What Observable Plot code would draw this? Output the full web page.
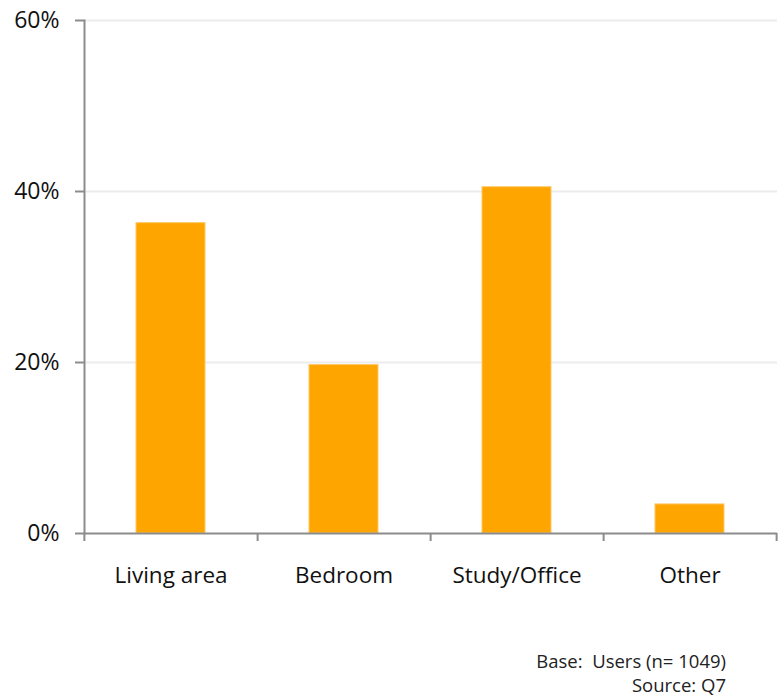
<!DOCTYPE html>
<html>
<head>
<meta charset="utf-8">
<script src="https://cdn.jsdelivr.net/npm/d3@7"></script>
<script src="https://cdn.jsdelivr.net/npm/@observablehq/plot@0.6"></script>
<style>
  html, body { margin: 0; padding: 0; background: #fff; }
  #chart { width: 781px; }
  .caption {
    width: 726px;
    text-align: right;
    font-family: "Open Sans", Lato, sans-serif;
    font-size: 18.5px;
    line-height: 24px;
    color: #222;
    padding-top: 1px;
  }
</style>
</head>
<body>
<div id="chart"></div>
<div class="caption">
  <div>Base:&nbsp; Users (n= 1049)</div>
  <div>Source: Q7</div>
</div>
<script>
// Where the device is used (share of users, %)
const rooms = ["Living area", "Bedroom", "Study/Office", "Other"];
const shares = [36.3, 19.7, 40.5, 3.4];
const yTicks = [0, 20, 40, 60];
const gridTicks = [20, 40, 60];

const data = rooms.map((room, i) => ({room, share: shares[i]}));

const width = 781;
const marginLeft = 84;
const marginRight = 4;
const step = (width - marginLeft - marginRight) / rooms.length;
const axisGray = "#8c8c8c";

const chart = Plot.plot({
  width,
  height: 648,
  marginTop: 20,
  marginBottom: 115,
  marginLeft,
  marginRight,
  style: {fontFamily: "'Open Sans', Lato, sans-serif", color: "#111", background: "#fff"},
  x: {domain: rooms, paddingInner: 0.6, paddingOuter: 0.3},
  y: {domain: [0, 60]},
  marks: [
    Plot.ruleY(gridTicks, {stroke: "#ececec", strokeWidth: 2}),
    Plot.barY(data, {x: "room", y: "share", fill: "#FFA500", stroke: "#FFC866", strokeWidth: 1}),
    Plot.ruleY([0], {stroke: axisGray, strokeWidth: 2}),
    Plot.frame({anchor: "left", stroke: axisGray, strokeWidth: 2}),
    Plot.axisY(yTicks, {
      tickSize: 9, tickPadding: 16, stroke: axisGray, strokeWidth: 2,
      tickFormat: d => d + "%", fontSize: 23, fill: "#111", label: null
    }),
    // boundary ticks between categories
    Plot.axisX(rooms, {tickSize: 8, dx: step / 2, stroke: axisGray, strokeWidth: 2, text: null, label: null}),
    Plot.axisX([rooms[0]], {tickSize: 8, dx: -step / 2, stroke: axisGray, strokeWidth: 2, text: null, label: null}),
    Plot.axisX(rooms, {tickSize: 0, tickPadding: 34, fontSize: 22.5, fill: "#111", label: null})
  ]
});

document.getElementById("chart").appendChild(chart);
</script>
</body>
</html>
